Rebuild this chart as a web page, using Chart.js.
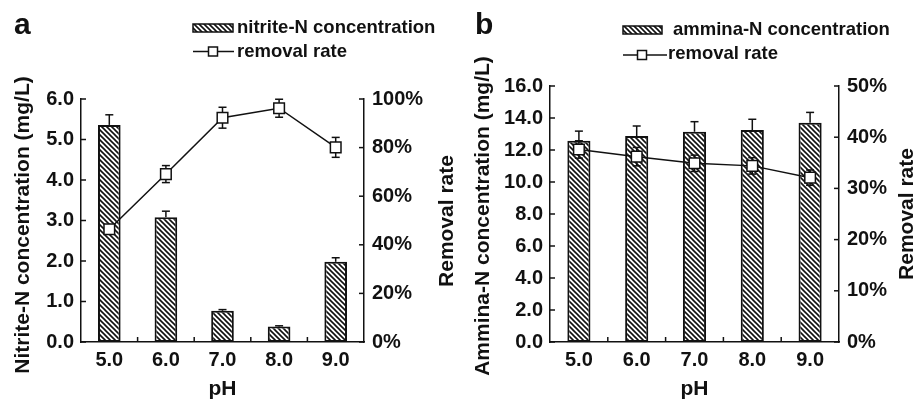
<!DOCTYPE html>
<html>
<head>
<meta charset="utf-8">
<script src="https://cdn.jsdelivr.net/npm/chart.js@4.4.1/dist/chart.umd.min.js"></script>
<style>
  html, body { margin: 0; padding: 0; background: #fff; }
  #wrap { position: relative; width: 916px; height: 399px; overflow: hidden; }
  canvas { position: absolute; top: 0; }
  #chartA { left: 0; }
  #chartB { left: 458px; }
</style>
</head>
<body>
<div id="wrap">
  <canvas id="chartA" width="458" height="399"></canvas>
  <canvas id="chartB" width="458" height="399"></canvas>
</div>
<script>
// pH levels tested
const phLabels = ["5.0", "6.0", "7.0", "8.0", "9.0"];

// panel a: nitrite-N
const nitriteConc = [5.36, 3.08, 0.77, 0.38, 1.98];
const nitriteConcErr = [0.25, 0.15, 0.03, 0.02, 0.1];
const nitriteRemoval = [46.4, 69.1, 92.3, 96.2, 80.1];
const nitriteRemovalErr = [1.5, 3.5, 4.3, 3.7, 4.1];

// panel b: ammina-N
const amminaConc = [12.58, 12.87, 13.14, 13.25, 13.7];
const amminaConcErr = [0.6, 0.63, 0.63, 0.67, 0.65];
const amminaRemoval = [37.6, 36.2, 34.9, 34.4, 32.1];
const amminaRemovalErr = [1.7, 1.8, 1.6, 1.6, 1.5];

const FONT = "'Liberation Sans', Arial, Helvetica, sans-serif";
const INK = "#111";

function makeHatch(ctx) {
  const c = document.createElement("canvas");
  c.width = 5;
  c.height = 5;
  const g = c.getContext("2d");
  g.fillStyle = "#fff";
  g.fillRect(0, 0, 5, 5);
  g.strokeStyle = INK;
  g.lineWidth = 1.6;
  g.beginPath();
  g.moveTo(-1, -1); g.lineTo(6, 6);
  g.moveTo(-1, 4); g.lineTo(1, 6);
  g.moveTo(4, -1); g.lineTo(6, 1);
  g.stroke();
  return ctx.createPattern(c, "repeat");
}

function vLine(ctx, x, y1, y2) {
  ctx.beginPath();
  ctx.moveTo(x, y1);
  ctx.lineTo(x, y2);
  ctx.stroke();
}

function hLine(ctx, x1, x2, y) {
  ctx.beginPath();
  ctx.moveTo(x1, y);
  ctx.lineTo(x2, y);
  ctx.stroke();
}

function rotatedText(ctx, text, x, y) {
  ctx.save();
  ctx.translate(x, y);
  ctx.rotate(-Math.PI / 2);
  ctx.textAlign = "center";
  ctx.textBaseline = "alphabetic";
  ctx.fillText(text, 0, 0);
  ctx.restore();
}

// error bars, inward ticks, titles, legend and panel letter
const decorPlugin = {
  id: "decor",
  beforeDatasetDraw(chart, args, opts) {
    if (args.meta.type !== "line") return;
    const { ctx } = chart;
    const y1 = chart.scales.y1;
    ctx.save();
    ctx.strokeStyle = INK;
    ctx.lineWidth = 1.5;
    args.meta.data.forEach((pt, i) => {
      const v = opts.lineValues[i];
      const e = opts.lineErr[i];
      const top = y1.getPixelForValue(v + e);
      const bot = y1.getPixelForValue(v - e);
      vLine(ctx, pt.x, top, bot);
      hLine(ctx, pt.x - 4, pt.x + 4, top);
      hLine(ctx, pt.x - 4, pt.x + 4, bot);
    });
    ctx.restore();
  },
  afterDatasetDraw(chart, args, opts) {
    if (args.meta.type !== "bar") return;
    const { ctx } = chart;
    const y = chart.scales.y;
    ctx.save();
    ctx.strokeStyle = INK;
    ctx.lineWidth = 1.5;
    args.meta.data.forEach((bar, i) => {
      const v = opts.barValues[i];
      const top = y.getPixelForValue(v + opts.barErr[i]);
      vLine(ctx, bar.x, y.getPixelForValue(v), top);
      hLine(ctx, bar.x - 4, bar.x + 4, top);
    });
    ctx.restore();
  },
  afterDraw(chart, args, opts) {
    const { ctx, chartArea } = chart;
    const sx = chart.scales.x, sy = chart.scales.y, sy1 = chart.scales.y1;
    ctx.save();
    ctx.strokeStyle = INK;
    ctx.lineWidth = 1.5;
    sy.ticks.forEach(t => {
      const p = sy.getPixelForValue(t.value);
      hLine(ctx, chartArea.left, chartArea.left + 5, p);
    });
    sy1.ticks.forEach(t => {
      const p = sy1.getPixelForValue(t.value);
      hLine(ctx, chartArea.right - 5, chartArea.right, p);
    });
    for (let i = 1; i < phLabels.length; i++) {
      const p = (sx.getPixelForValue(i - 1) + sx.getPixelForValue(i)) / 2;
      vLine(ctx, p, chartArea.bottom, chartArea.bottom - 5);
    }

    ctx.fillStyle = INK;
    ctx.font = "bold 21px " + FONT;
    ctx.textAlign = "center";
    ctx.textBaseline = "alphabetic";
    ctx.fillText("pH", (chartArea.left + chartArea.right) / 2, 395);
    rotatedText(ctx, opts.leftTitle, opts.leftTitleX, opts.leftTitleY);
    rotatedText(ctx, "Removal rate", opts.rightTitleX, opts.rightTitleY);

    ctx.font = "bold 30px " + FONT;
    ctx.textAlign = "left";
    ctx.fillText(opts.letter, opts.letterX, 34);

    // legend
    const lg = opts.legend;
    ctx.font = "bold 18.5px " + FONT;
    ctx.fillStyle = opts.hatch;
    ctx.fillRect(lg.x, lg.swTop, lg.swW, 8);
    ctx.lineWidth = 1.5;
    ctx.strokeRect(lg.x, lg.swTop, lg.swW, 8);
    ctx.fillStyle = INK;
    ctx.fillText(opts.barLabel, lg.textX1, lg.base1);
    hLine(ctx, lg.x, lg.lineEnd, lg.lineY);
    ctx.fillStyle = "#fff";
    ctx.fillRect(lg.markX - 4.5, lg.lineY - 4.5, 9, 9);
    ctx.strokeRect(lg.markX - 4.5, lg.lineY - 4.5, 9, 9);
    ctx.fillStyle = INK;
    ctx.fillText("removal rate", lg.textX2, lg.base2);
    ctx.restore();
  }
};

function makePanel(canvas, p) {
  const ctx = canvas.getContext("2d");
  const hatch = makeHatch(ctx);
  const tickFont = { family: FONT, size: 20, weight: "bold" };
  return new Chart(canvas, {
    data: {
      labels: phLabels,
      datasets: [
        {
          type: "line",
          label: "removal rate",
          data: p.lineValues,
          yAxisID: "y1",
          order: 0,
          borderColor: INK,
          borderWidth: 1.5,
          tension: 0,
          pointStyle: "rect",
          pointRadius: 7.5,
          pointBorderWidth: 1.5,
          pointBackgroundColor: "#fff",
          pointBorderColor: INK
        },
        {
          type: "bar",
          label: p.barLabel,
          data: p.barValues,
          yAxisID: "y",
          order: 1,
          backgroundColor: hatch,
          borderColor: INK,
          borderWidth: 2,
          borderSkipped: false,
          categoryPercentage: 0.8,
          barPercentage: 0.5
        }
      ]
    },
    options: {
      responsive: false,
      animation: false,
      events: [],
      layout: { padding: { top: p.top, left: 0, right: 0, bottom: 0 } },
      plugins: {
        legend: { display: false },
        tooltip: { enabled: false },
        decor: Object.assign({ hatch: hatch }, p)
      },
      scales: {
        x: {
          grid: { display: false, drawTicks: false },
          border: { display: true, color: INK, width: 1.5 },
          ticks: { color: INK, font: tickFont, padding: 6, maxRotation: 0 },
          afterFit(scale) { scale.height = 57; }
        },
        y: {
          position: "left",
          min: 0,
          max: p.yMax,
          grid: { display: false, drawTicks: false },
          border: { display: true, color: INK, width: 1.5 },
          ticks: {
            stepSize: p.yStep,
            color: INK,
            font: tickFont,
            padding: 7,
            callback: v => v.toFixed(1)
          },
          afterFit(scale) { scale.width = p.yWidth; }
        },
        y1: {
          position: "right",
          min: 0,
          max: p.y1Max,
          grid: { display: false, drawTicks: false },
          border: { display: true, color: INK, width: 1.5 },
          ticks: {
            stepSize: p.y1Step,
            color: INK,
            font: tickFont,
            padding: 8,
            callback: v => v + "%"
          },
          afterFit(scale) { scale.width = p.y1Width; }
        }
      }
    },
    plugins: [decorPlugin]
  });
}

makePanel(document.getElementById("chartA"), {
  letter: "a",
  letterX: 14,
  top: 99,
  yWidth: 81,
  y1Width: 94,
  yMax: 6,
  yStep: 1,
  y1Max: 100,
  y1Step: 20,
  barLabel: "nitrite-N concentration",
  barValues: nitriteConc,
  barErr: nitriteConcErr,
  lineValues: nitriteRemoval,
  lineErr: nitriteRemovalErr,
  leftTitle: "Nitrite-N concentration (mg/L)",
  leftTitleX: 28.5,
  leftTitleY: 225,
  rightTitleX: 453,
  rightTitleY: 221,
  legend: { x: 193, swTop: 24, swW: 40, textX1: 237, base1: 33, lineEnd: 234, lineY: 51.5, markX: 213, textX2: 237, base2: 57 }
});

makePanel(document.getElementById("chartB"), {
  letter: "b",
  letterX: 17,
  top: 86,
  yWidth: 92,
  y1Width: 77,
  yMax: 16,
  yStep: 2,
  y1Max: 50,
  y1Step: 10,
  barLabel: "ammina-N concentration",
  barValues: amminaConc,
  barErr: amminaConcErr,
  lineValues: amminaRemoval,
  lineErr: amminaRemovalErr,
  leftTitle: "Ammina-N concentration (mg/L)",
  leftTitleX: 30.5,
  leftTitleY: 216,
  rightTitleX: 455,
  rightTitleY: 214,
  legend: { x: 165, swTop: 26, swW: 39, textX1: 215, base1: 35, lineEnd: 209, lineY: 55, markX: 184, textX2: 210, base2: 59 }
});
</script>
</body>
</html>
